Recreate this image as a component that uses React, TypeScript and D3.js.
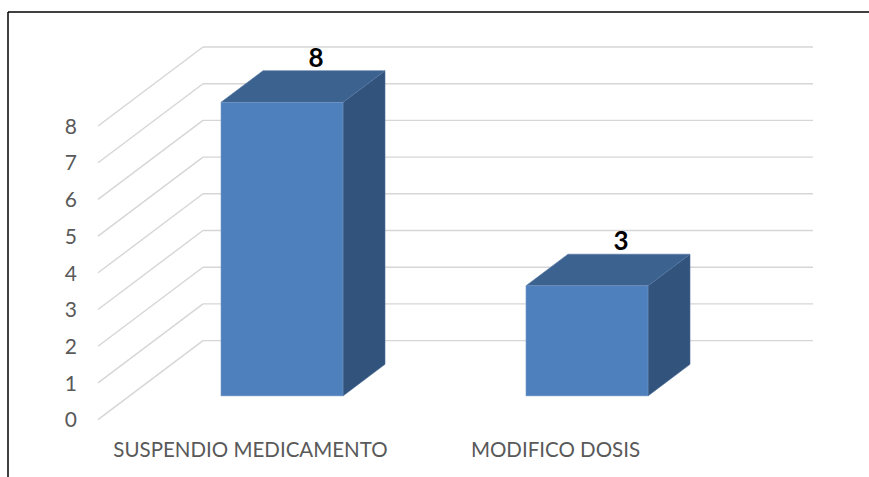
import React from "react";
import * as d3 from "d3";

const categories = ["SUSPENDIO MEDICAMENTO", "MODIFICO DOSIS"];
const values = [8, 3];
const yTicks = [0, 1, 2, 3, 4, 5, 6, 7, 8];

const W = 869;
const H = 477;
// 3D projection: offset from front plane to back wall
const DX = 105;
const DY = -79;
const D0 = 0.3; // bar front depth fraction
const D1 = 0.7; // bar back depth fraction

export default function App() {
  const y = d3.scaleLinear().domain([0, 8]).range([419.6, 126]);
  const x = d3
    .scaleBand<string>()
    .domain(categories)
    .range([98, 708])
    .paddingInner(0.6)
    .paddingOuter(0.3);

  const font = "Lato, 'Open Sans', sans-serif";

  return (
    <svg
      width={W}
      height={H}
      style={{ position: "absolute", left: 0, top: 0, background: "#fff" }}
    >
      <rect x={0} y={0} width={W} height={H} fill="#fff" />
      {yTicks.map((t) => {
        const yf = y(t);
        const x0 = 98;
        return (
          <g key={t}>
            <line
              x1={x0}
              y1={yf}
              x2={x0 + DX}
              y2={yf + DY}
              stroke="#d6d6d6"
              strokeWidth={1.4}
            />
            <line
              x1={x0 + DX}
              y1={yf + DY}
              x2={708 + DX}
              y2={yf + DY}
              stroke="#d6d6d6"
              strokeWidth={1.4}
            />
          </g>
        );
      })}
      {yTicks.map((t) => (
        <text
          key={"l" + t}
          x={77}
          y={y(t)}
          dy="0.37em"
          textAnchor="end"
          fontFamily={font}
          fontSize={21}
          fill="#595959"
        >
          {t}
        </text>
      ))}
      {categories.map((c, i) => {
        const v = values[i];
        const bx = x(c)!;
        const bw = x.bandwidth();
        const fx0 = bx + DX * D0;
        const fx1 = fx0 + bw;
        const fyb = y(0) + DY * D0;
        const fyt = y(v) + DY * D0;
        const ddx = DX * (D1 - D0);
        const ddy = DY * (D1 - D0);
        const top = `M${fx0},${fyt} L${fx1},${fyt} L${fx1 + ddx},${fyt + ddy} L${fx0 + ddx},${fyt + ddy} Z`;
        const side = `M${fx1},${fyt} L${fx1 + ddx},${fyt + ddy} L${fx1 + ddx},${fyb + ddy} L${fx1},${fyb} Z`;
        const labelX = fx0 + ddx + bw / 2 - 8;
        const labelY = fyt + ddy - 4;
        return (
          <g key={c}>
            <path d={side} fill="#31537c" stroke="#4a6d99" strokeWidth={0.6} />
            <path d={top} fill="#3c6290" stroke="#5577a3" strokeWidth={0.6} />
            <rect
              x={fx0}
              y={fyt}
              width={bw}
              height={fyb - fyt}
              fill="#4e80bd"
              stroke="#7397c6"
              strokeWidth={0.6}
            />
            <text
              x={labelX}
              y={labelY}
              textAnchor="middle"
              fontFamily={font}
              fontWeight="bold"
              fontSize={26}
              fill="#000"
            >
              {v}
            </text>
            <text
              x={bx + bw / 2}
              y={456.7}
              textAnchor="middle"
              fontFamily={font}
              fontSize={20.5}
              fill="#595959"
            >
              {c}
            </text>
          </g>
        );
      })}
      <line x1={8} y1={12} x2={W} y2={12} stroke="#000" strokeWidth={1.5} />
      <line x1={8} y1={12} x2={8} y2={H} stroke="#000" strokeWidth={1.5} />
    </svg>
  );
}
